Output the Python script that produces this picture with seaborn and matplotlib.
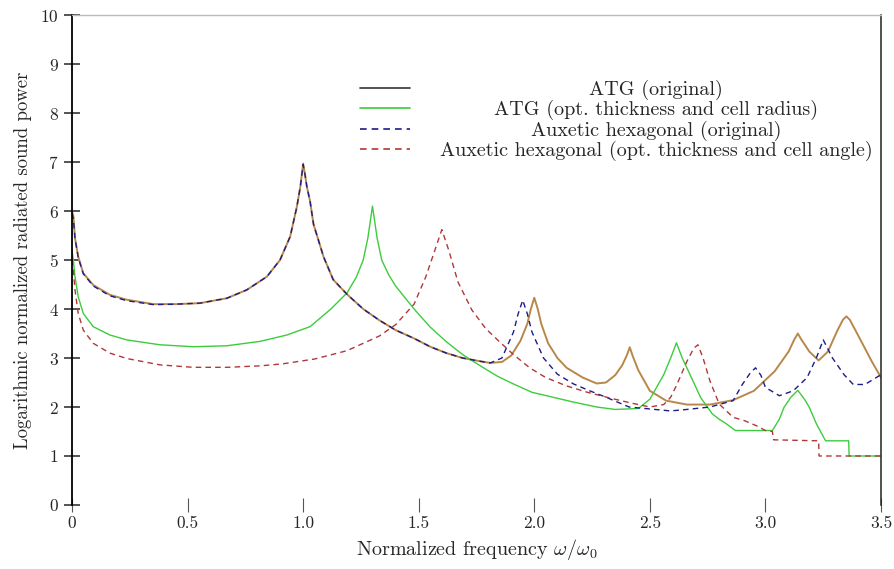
import matplotlib
matplotlib.use('Agg')
import matplotlib.pyplot as plt
from matplotlib.lines import Line2D
import seaborn as sns

# ATG (original)
atg_x = [0, 0.006, 0.013, 0.027, 0.049, 0.092, 0.164, 0.237, 0.352, 0.453, 0.554, 0.67, 0.756,
         0.843, 0.9, 0.944, 0.973, 0.988, 1.0, 1.008, 1.016, 1.03, 1.045, 1.088, 1.13, 1.19, 1.26,
         1.33, 1.40, 1.48, 1.55, 1.62, 1.69, 1.77, 1.81, 1.86, 1.9, 1.94, 1.97, 1.985, 2.0, 2.015,
         2.03, 2.06, 2.1, 2.14, 2.21, 2.27, 2.31, 2.35, 2.38, 2.4, 2.413, 2.425, 2.45, 2.50, 2.57,
         2.66, 2.76, 2.86, 2.95, 3.04, 3.10, 3.125, 3.14, 3.155, 3.19, 3.23, 3.27, 3.31, 3.335,
         3.35, 3.365, 3.40, 3.46, 3.50]
atg_y = [6.0, 5.9, 5.45, 5.07, 4.73, 4.49, 4.29, 4.19, 4.1, 4.1, 4.12, 4.22, 4.39,
         4.66, 5.0, 5.48, 6.09, 6.5, 6.97, 6.75, 6.5, 6.2, 5.73, 5.07, 4.6, 4.3, 4.0,
         3.77, 3.57, 3.4, 3.23, 3.1, 3.0, 2.93, 2.9, 2.92, 3.05, 3.35, 3.7, 4.0, 4.23, 4.0,
         3.7, 3.3, 3.0, 2.8, 2.6, 2.48, 2.5, 2.65, 2.85, 3.05, 3.22, 3.05, 2.75, 2.33, 2.13,
         2.05, 2.05, 2.14, 2.33, 2.73, 3.13, 3.38, 3.5, 3.38, 3.13, 2.95, 3.13, 3.55, 3.78,
         3.85, 3.78, 3.47, 2.93, 2.6]

# ATG (opt. thickness and cell radius)
atg_opt_x = [0, 0.006, 0.013, 0.027, 0.049, 0.092, 0.164, 0.237, 0.381, 0.525, 0.67, 0.814,
             0.93, 1.03, 1.12, 1.19, 1.23, 1.26, 1.28, 1.30, 1.32, 1.34, 1.37, 1.40, 1.48, 1.55,
             1.62, 1.69, 1.77, 1.84, 1.91, 1.99, 2.08, 2.17, 2.27, 2.35, 2.45, 2.5, 2.56, 2.59,
             2.615, 2.64, 2.66, 2.72, 2.77, 2.80, 2.83, 2.87, 3.03, 3.06, 3.08, 3.11, 3.14, 3.17,
             3.19, 3.22, 3.26, 3.36, 3.362, 3.5]
atg_opt_y = [5.2, 5.0, 4.66, 4.25, 3.91, 3.64, 3.47, 3.37, 3.27, 3.23, 3.25, 3.34,
             3.47, 3.64, 4.0, 4.33, 4.65, 5.0, 5.45, 6.1, 5.45, 5.0, 4.7, 4.47, 4.0, 3.63,
             3.33, 3.07, 2.83, 2.63, 2.47, 2.3, 2.2, 2.1, 2.0, 1.95, 1.97, 2.16, 2.66, 3.0,
             3.31, 3.0, 2.8, 2.19, 1.86, 1.75, 1.66, 1.52, 1.52, 1.75, 1.99, 2.2, 2.34, 2.15,
             1.99, 1.66, 1.31, 1.31, 1.0, 1.0]

# Auxetic hexagonal (original)
hex_x = [0, 0.006, 0.013, 0.027, 0.049, 0.092, 0.164, 0.237, 0.352, 0.453, 0.554, 0.67, 0.756,
         0.843, 0.9, 0.944, 0.973, 0.988, 1.0, 1.008, 1.016, 1.03, 1.045, 1.088, 1.13, 1.19, 1.26,
         1.33, 1.40, 1.48, 1.55, 1.62, 1.69, 1.77, 1.81, 1.86, 1.91, 1.93, 1.95, 1.97, 1.99, 2.04,
         2.1, 2.17, 2.24, 2.31, 2.41, 2.5, 2.59, 2.66, 2.76, 2.86, 2.90, 2.935, 2.957, 2.98, 3.0,
         3.06, 3.12, 3.18, 3.22, 3.25, 3.29, 3.34, 3.38, 3.43, 3.50]
hex_y = [5.95, 5.85, 5.45, 5.05, 4.72, 4.47, 4.27, 4.17, 4.09, 4.1, 4.12, 4.22, 4.39,
         4.66, 5.0, 5.48, 6.09, 6.5, 6.95, 6.75, 6.5, 6.2, 5.73, 5.07, 4.6, 4.3, 4.0,
         3.77, 3.57, 3.4, 3.23, 3.1, 3.0, 2.93, 2.9, 3.0, 3.53, 3.9, 4.18, 3.9, 3.53, 3.0,
         2.67, 2.47, 2.33, 2.2, 2.0, 1.96, 1.92, 1.95, 2.0, 2.13, 2.46, 2.7, 2.8, 2.65, 2.4,
         2.23, 2.33, 2.6, 3.0, 3.37, 3.0, 2.66, 2.46, 2.46, 2.66]

# Auxetic hexagonal (opt. thickness and cell angle)
hex_opt_x = [0, 0.006, 0.013, 0.027, 0.049, 0.092, 0.164, 0.237, 0.381, 0.525, 0.67, 0.814,
             0.91, 1.05, 1.19, 1.33, 1.40, 1.48, 1.53, 1.57, 1.60, 1.63, 1.67, 1.73, 1.79, 1.85,
             1.91, 1.98, 2.05, 2.14, 2.23, 2.33, 2.42, 2.5, 2.56, 2.59, 2.617, 2.66, 2.69, 2.708,
             2.73, 2.76, 2.80, 2.86, 2.91, 2.96, 3.0, 3.03, 3.035, 3.23, 3.232, 3.5]
hex_opt_y = [5.0, 4.8, 4.39, 3.91, 3.57, 3.3, 3.1, 2.99, 2.86, 2.81, 2.81, 2.84,
             2.88, 2.98, 3.15, 3.45, 3.68, 4.1, 4.65, 5.2, 5.62, 5.2, 4.55, 3.98, 3.6, 3.33,
             3.07, 2.8, 2.6, 2.43, 2.3, 2.18, 2.08, 2.0, 2.05, 2.2, 2.46, 2.93, 3.2, 3.27,
             3.0, 2.53, 2.06, 1.79, 1.72, 1.62, 1.52, 1.5, 1.33, 1.31, 1.0, 1.0]

labels = ['ATG (original)', 'ATG (opt. thickness and cell radius)',
          'Auxetic hexagonal (original)', 'Auxetic hexagonal (opt. thickness and cell angle)']
x_ticks = [0, 0.5, 1.0, 1.5, 2.0, 2.5, 3.0, 3.5]
x_tick_labels = ['0', '0.5', '1.0', '1.5', '2.0', '2.5', '3.0', '3.5']
y_ticks = list(range(0, 11))

sns.set_style('ticks')
plt.rcParams['font.family'] = ['cmr10', 'DejaVu Serif']
plt.rcParams['mathtext.fontset'] = 'cm'
plt.rcParams['axes.formatter.use_mathtext'] = True

fig = plt.figure(figsize=(8.94, 5.69), dpi=100)
ax = fig.add_axes([0.0805, 0.1125, 0.905, 0.861])

atg_col = '#b8884a'
green = '#3ccc3c'
blue = '#1c1c8a'
red = '#b03838'

sns.lineplot(x=atg_x, y=atg_y, ax=ax, color=atg_col, lw=1.4, sort=False, estimator=None)
sns.lineplot(x=atg_opt_x, y=atg_opt_y, ax=ax, color=green, lw=1.0, sort=False, estimator=None)
sns.lineplot(x=hex_x, y=hex_y, ax=ax, color=blue, lw=1.0, sort=False, estimator=None,
             dashes=False, linestyle=(0, (4, 3)))
sns.lineplot(x=hex_opt_x, y=hex_opt_y, ax=ax, color=red, lw=1.0, sort=False, estimator=None,
             dashes=False, linestyle=(0, (4, 3)))

ax.set_xlim(0, 3.5)
ax.set_ylim(0, 10)
ax.set_xticks(x_ticks)
ax.set_xticklabels(x_tick_labels)
ax.set_yticks(y_ticks)
ax.tick_params(axis='y', direction='inout', length=11, width=1.1, labelsize=12.5, pad=4)
ax.tick_params(axis='x', direction='inout', length=10, width=0.8, color='#555555',
               labelsize=12.5, pad=3)

ax.spines['bottom'].set_visible(False)
ax.spines['left'].set_color('black')
ax.spines['left'].set_linewidth(1.3)
ax.spines['right'].set_color('#222222')
ax.spines['right'].set_linewidth(1.1)
ax.spines['top'].set_visible(True)
ax.spines['top'].set_color('#bbbbbb')
ax.spines['top'].set_linewidth(1.0)

ax.set_xlabel(r'Normalized frequency $\omega/\omega_0$', fontsize=14.5, labelpad=4)
ax.set_ylabel('Logarithmic normalized radiated sound power', fontsize=13.5, labelpad=6)

handles = [
    Line2D([], [], color='#333333', lw=1.2),
    Line2D([], [], color=green, lw=1.2),
    Line2D([], [], color=blue, lw=1.2, linestyle=(0, (4, 3))),
    Line2D([], [], color=red, lw=1.2, linestyle=(0, (4, 3))),
]
leg = ax.legend(handles, labels, loc='upper left', bbox_to_anchor=(0.356, 0.868),
                frameon=False, fontsize=14.5, handlelength=2.5, handletextpad=1.45,
                labelspacing=0.02, borderpad=0, borderaxespad=0)

# centre the legend texts like the original (legend texts stay left aligned,
# so shift each one by half of the width it lacks)
fig.canvas.draw()
r = fig.canvas.get_renderer()
texts = leg.get_texts()
widths = [t.get_window_extent(r).width for t in texts]
maxw = max(widths)
for t, w in zip(texts, widths):
    t.set_position(((maxw - w) / 2, 0))

fig.savefig('out.png', dpi=100)
